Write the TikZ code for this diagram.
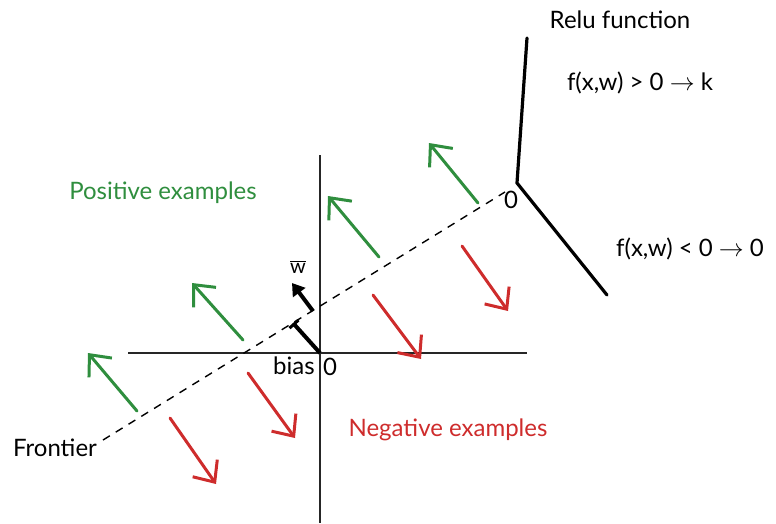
\documentclass[tikz,border=0pt]{standalone}
\usepackage{fontspec}
\setmainfont{Lato}
\usetikzlibrary{arrows.meta}
\definecolor{posgreen}{RGB}{47,142,62}
\definecolor{negred}{RGB}{206,44,44}
\tikzset{
  axis/.style={line width=1.1pt, black!85},
  frontier/.style={line width=1.4pt, dash pattern=on 8pt off 7pt},
  posarrow/.style={line width=3pt, posgreen, line cap=round, -{Straight Barb[length=17pt,width=30pt,line width=3pt]}},
  negarrow/.style={line width=3pt, negred, line cap=round, -{Straight Barb[length=17pt,width=30pt,line width=3pt]}},
  relu/.style={line width=3.2pt, line cap=round},
  lbl/.style={font=\fontsize{24}{28}\selectfont, inner sep=0pt},
}
\begin{document}
\begin{tikzpicture}[x=1pt,y=-1pt]
\useasboundingbox (0,0) rectangle (776,523);
% axes
\coordinate (vtop) at (320,155);
\coordinate (vbot) at (320,523);
\coordinate (hl) at (128,353);
\coordinate (hr) at (527,353);
\coordinate (O) at (320,353);
\draw[axis] (vtop) -- (vbot);
\draw[axis] (hl) -- (hr);
% frontier
\coordinate (f1) at (103,440);
\coordinate (f2) at (505,192);
\draw[frontier] (f1) -- (f2);
% bias and w
\coordinate (bend) at (293,323);
\draw[line width=4pt, {Bar[width=12pt,line width=3pt]}-] (bend) -- (O);
\coordinate (wt) at (313,311);
\coordinate (wh) at (292,283);
\draw[line width=4pt, -{Triangle[length=12pt,width=15pt]}] (wt) -- (wh);
% green arrows
\coordinate (g1t) at (137,411); \coordinate (g1h) at (88,353);
\coordinate (g2t) at (243,340); \coordinate (g2h) at (192,283);
\coordinate (g3t) at (379,257); \coordinate (g3h) at (328,196);
\coordinate (g4t) at (478,203); \coordinate (g4h) at (429,143);
\draw[posarrow] (g1t) -- (g1h);
\draw[posarrow] (g2t) -- (g2h);
\draw[posarrow] (g3t) -- (g3h);
\draw[posarrow] (g4t) -- (g4h);
% red arrows
\coordinate (r1t) at (170,418); \coordinate (r1h) at (216,484);
\coordinate (r2t) at (248,373); \coordinate (r2h) at (295,438);
\coordinate (r3t) at (373,295); \coordinate (r3h) at (421,359);
\coordinate (r4t) at (462,246); \coordinate (r4h) at (508,311);
\draw[negarrow] (r1t) -- (r1h);
\draw[negarrow] (r2t) -- (r2h);
\draw[negarrow] (r3t) -- (r3h);
\draw[negarrow] (r4t) -- (r4h);
% relu
\coordinate (rtop) at (527,38);
\coordinate (rmid) at (517,183);
\coordinate (rbot) at (607,295);
\draw[relu] (rtop) -- (rmid) -- (rbot);
% labels
\node[lbl] (relu) at (620,20) {Relu function};
\node[lbl] (fpos) at (640,83) {f(x,w) > 0 $\rightarrow$ k};
\node[lbl] (fneg) at (690,249) {f(x,w) < 0 $\rightarrow$ 0};
\node[lbl, text=posgreen] (pos) at (163,193) {Positive examples};
\node[lbl, text=negred] (neg) at (448,430) {Negative examples};
\node[lbl] (front) at (55,448) {Frontier};
\node[lbl] (bias) at (294,366) {bias};
\node[lbl] (zero) at (330,367) {0};
\node[lbl] (rzero) at (511,200) {0};
\node[lbl, font=\fontsize{20}{24}\selectfont] (wlbl) at (298,267) {$\overline{\mbox{w}}$};
\end{tikzpicture}
\end{document}
